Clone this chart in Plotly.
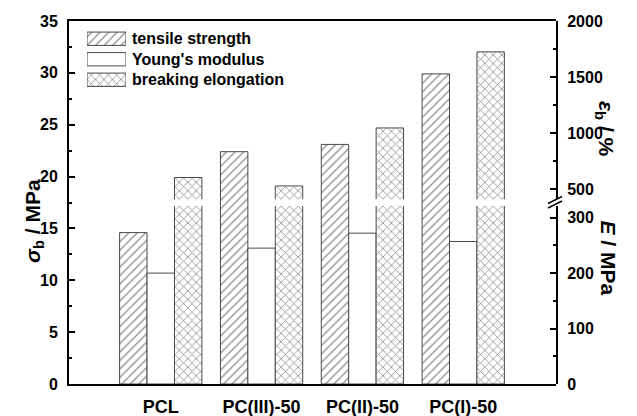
import plotly.graph_objects as go

# ---------------- data ----------------
categories = ["PCL", "PC(III)-50", "PC(II)-50", "PC(I)-50"]
tensile_strength = [14.6, 22.4, 23.1, 29.9]        # sigma_b, MPa (left axis)
youngs_modulus = [200, 245, 272, 257]              # E, MPa (right lower axis)
breaking_elongation = [605, 530, 1047, 1725]       # epsilon_b, % (right upper axis)
series_names = ["tensile strength", "Young's modulus", "breaking elongation"]

left_ticks = [0, 5, 10, 15, 20, 25, 30, 35]
E_ticks = [0, 100, 200, 300]
eps_ticks = [500, 1000, 1500, 2000]

# ---------------- layout geometry ----------------
W, H = 637, 416
ML, MR, MT, MB = 69, 81, 21, 32
PH = H - MT - MB
PW = W - ML - MR
Y0 = H - MB  # pixel row of the bottom axis


def py(p):  # pixel row -> paper y
    return (Y0 - p) / PH


def px(p):  # pixel column -> paper x
    return (p - ML) / PW


low_top = py(206.0)     # top of lower (E) segment
high_bot = py(199.3)    # bottom of upper (epsilon) segment
E_range = [0, 321]
eps_range = [411, 2000]

FONT = "Liberation Sans, Arial, sans-serif"
xs = list(range(1, len(categories) + 1))
BW = 0.272
edge = dict(color="#4a4a4a", width=1)
hatch = dict(shape="/", size=6, solidity=0.2, fgcolor="#111111", bgcolor="white")
cross = dict(shape="x", size=6, solidity=0.24, fgcolor="#111111", bgcolor="white")

fig = go.Figure()
fig.add_trace(go.Bar(x=xs, y=tensile_strength, yaxis="y", width=BW, offset=-1.5 * BW,
                     marker=dict(color="white", pattern=hatch, line=edge),
                     name=series_names[0], showlegend=False))
fig.add_trace(go.Bar(x=xs, y=youngs_modulus, yaxis="y2", width=BW, offset=-0.5 * BW,
                     marker=dict(color="white", line=edge),
                     name=series_names[1], showlegend=False))
fig.add_trace(go.Bar(x=xs, y=breaking_elongation, yaxis="y2", width=BW, offset=0.5 * BW,
                     marker=dict(color="white", pattern=cross, line=edge),
                     name=series_names[2], showlegend=False))
fig.add_trace(go.Bar(x=xs, y=breaking_elongation, yaxis="y3", width=BW, offset=0.5 * BW,
                     marker=dict(color="white", pattern=cross, line=edge),
                     name=series_names[2], showlegend=False))

# ---- custom legend (small hidden subplot) ----
leg_styles = [dict(color="white", pattern=hatch, line=edge),
              dict(color="white", line=edge),
              dict(color="white", pattern=cross, line=edge)]
for i, (nm, st) in enumerate(zip(series_names, leg_styles)):
    fig.add_trace(go.Bar(x=[1], y=[i], orientation="h", xaxis="x2", yaxis="y4",
                         width=0.65, marker=st, showlegend=False, hoverinfo="skip"))
    fig.add_annotation(x=px(129.5), xref="paper", y=i, yref="y4", text=nm,
                       showarrow=False, xanchor="left", yanchor="middle",
                       font=dict(family=FONT, size=16, color="black", weight="bold"))

tickfont = dict(family=FONT, size=16, color="black", weight="bold")
axis_common = dict(showline=True, linecolor="black", linewidth=2, ticks="inside",
                   ticklen=6, tickwidth=1.5, tickcolor="black", showgrid=False,
                   zeroline=False, tickfont=tickfont, ticklabelstandoff=6,
                   automargin=False)

fig.update_layout(
    width=W, height=H,
    margin=dict(l=ML, r=MR, t=MT, b=MB, pad=0, autoexpand=False),
    paper_bgcolor="white", plot_bgcolor="rgba(0,0,0,0)",
    barmode="overlay", showlegend=False,
    xaxis=dict(domain=[0, 1], range=[0.09, 4.92], tickvals=xs, ticktext=categories,
               showline=True, linecolor="black", linewidth=2, mirror=True,
               ticks="inside", ticklen=6, tickwidth=1.5, tickcolor="black",
               showgrid=False, zeroline=False, ticklabelstandoff=5, automargin=False,
               tickfont=dict(family=FONT, size=18, color="black", weight="bold")),
    yaxis=dict(domain=[0, 1], range=[0, 35], tickvals=left_ticks,
               minor=dict(ticks="inside", ticklen=3, tickwidth=1.5, dtick=2.5, tickcolor="black"),
               **axis_common),
    yaxis2=dict(domain=[0, low_top], range=E_range, anchor="x", side="right",
                tickvals=E_ticks,
                minor=dict(ticks="inside", ticklen=3, tickwidth=1.5, dtick=50, tickcolor="black"),
                **axis_common),
    yaxis3=dict(domain=[high_bot, 1], range=eps_range, anchor="x", side="right",
                tickvals=eps_ticks,
                minor=dict(ticks="inside", ticklen=3, tickwidth=1.5, tick0=500, dtick=250,
                           tickcolor="black"),
                **axis_common),
    xaxis2=dict(domain=[px(87), px(126)], range=[0, 1], anchor="y4", visible=False),
    yaxis4=dict(domain=[py(90), py(28.5)], range=[2.5, -0.5], anchor="x2", visible=False),
)

# axis titles
title_font = dict(family=FONT, size=21, color="black", weight="bold")
fig.add_annotation(x=px(19), y=py(221), xref="paper", yref="paper", showarrow=False,
                   text="<i>σ</i><sub>b</sub> / MPa", textangle=-90, font=title_font)
fig.add_annotation(x=px(620), y=py(99), xref="paper", yref="paper", showarrow=False,
                   text="<i>ε</i><sub>b</sub> / %", textangle=90, font=title_font)
fig.add_annotation(x=px(622), y=py(258), xref="paper", yref="paper", showarrow=False,
                   text="<i>E</i> / MPa", textangle=90, font=title_font)

# axis-break marks on the right axis
for dy in (0, 4.5):
    fig.add_shape(type="line", xref="paper", yref="paper",
                  x0=px(548), y0=py(203.5 + dy), x1=px(562), y1=py(196.5 + dy),
                  line=dict(color="black", width=1.5))

fig.write_html("out.html")
